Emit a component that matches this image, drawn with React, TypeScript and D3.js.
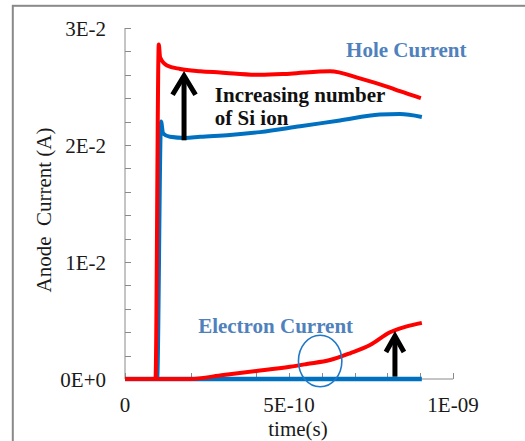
import React, { useEffect, useRef } from 'react';
import * as d3 from 'd3';

// time in units of 1E-10 s, current in units of 1E-2 A
const holeHighT = [0, 0.93, 1.03, 1.07, 1.28, 1.68, 2.29, 2.9, 4.12, 5.03, 6.25, 7.16, 8.08, 8.38, 9.02];
const holeHighI = [0, 0, 2.86, 2.75, 2.68, 2.65, 2.63, 2.62, 2.6, 2.61, 2.63, 2.57, 2.49, 2.46, 2.4];

const holeLowT = [0, 0.98, 1.1, 1.16, 1.37, 1.83, 2.29, 3.2, 4.12, 5.34, 6.55, 7.77, 8.38, 9.05];
const holeLowI = [0, 0, 2.2, 2.1, 2.07, 2.06, 2.07, 2.085, 2.11, 2.16, 2.21, 2.26, 2.265, 2.24];

const elecHighT = [0, 1.98, 3.0, 4.01, 5.03, 5.54, 6.25, 6.86, 7.47, 8.08, 8.59, 9.05];
const elecHighI = [0, 0, 0.034, 0.068, 0.105, 0.128, 0.162, 0.22, 0.29, 0.4, 0.45, 0.48];

const elecLowT = [0, 9.05];
const elecLowI = [0, 0];

const yTicks = [0, 0.01, 0.02, 0.03];
const yTickLabels = ['0E+0', '1E-2', '2E-2', '3E-2'];
const xTicks = [0, 5e-10, 1e-9];
const xTickLabels = ['0', '5E-10', '1E-09'];

export default function App() {
  const ref = useRef<SVGSVGElement>(null);

  useEffect(() => {
    const svg = d3.select(ref.current);
    svg.selectAll('*').remove();

    const x = d3.scaleLinear().domain([0, 1e-9]).range([125, 453]);
    const y = d3.scaleLinear().domain([0, 0.03]).range([379, 28]);
    const serif = '"Liberation Serif", "Times New Roman", serif';

    // outer frame (cut off by the picture at right and bottom)
    svg.append('rect')
      .attr('x', 12.8).attr('y', 5.8)
      .attr('width', 560).attr('height', 480)
      .attr('fill', 'none').attr('stroke', '#898989').attr('stroke-width', 2);

    // axes
    const axisColor = '#8a8a8a';
    svg.append('line')
      .attr('x1', x(0)).attr('x2', x(0)).attr('y1', y(0)).attr('y2', y(0.03))
      .attr('stroke', axisColor);
    svg.append('line')
      .attr('x1', x(0)).attr('x2', x(1e-9)).attr('y1', y(0)).attr('y2', y(0))
      .attr('stroke', axisColor);

    // minor ticks, pointing inward
    svg.selectAll('.yt').data(d3.range(0, 16).map(i => i * 0.002))
      .enter().append('line')
      .attr('x1', x(0)).attr('x2', x(0) + 6)
      .attr('y1', d => Math.round(y(d)) + 0.5).attr('y2', d => Math.round(y(d)) + 0.5)
      .attr('stroke', axisColor);
    svg.selectAll('.xt').data(d3.range(0, 11).map(i => i * 1e-10))
      .enter().append('line')
      .attr('x1', d => Math.round(x(d)) + 0.5).attr('x2', d => Math.round(x(d)) + 0.5)
      .attr('y1', y(0)).attr('y2', y(0) - 6)
      .attr('stroke', axisColor);

    // tick labels
    svg.selectAll('.yl').data(yTicks)
      .enter().append('text')
      .attr('x', 106).attr('y', d => y(d) + 7.5)
      .attr('text-anchor', 'end')
      .style('font-family', serif).style('font-size', '21px').attr('fill', '#1a1a1a')
      .text((d, i) => yTickLabels[i]);
    svg.selectAll('.xl').data(xTicks)
      .enter().append('text')
      .attr('x', d => x(d)).attr('y', 411.5)
      .attr('text-anchor', 'middle')
      .style('font-family', serif).style('font-size', '21px').attr('fill', '#1a1a1a')
      .text((d, i) => xTickLabels[i]);

    // axis titles
    svg.append('text')
      .attr('x', 298).attr('y', 436)
      .attr('text-anchor', 'middle')
      .style('font-family', serif).style('font-size', '21px').attr('fill', '#1a1a1a')
      .text('time(s)');
    svg.append('text')
      .attr('transform', 'translate(51,210) rotate(-90)')
      .attr('text-anchor', 'middle')
      .style('font-family', serif).style('font-size', '21px').style('white-space', 'pre')
      .attr('fill', '#1a1a1a')
      .text('Anode  Current (A)');

    // series
    const line = d3.line<[number, number]>()
      .x(d => x(d[0] * 1e-10))
      .y(d => y(d[1] * 1e-2))
      .curve(d3.curveMonotoneX);
    const pairs = (t: number[], v: number[]) => t.map((d, i) => [d, v[i]] as [number, number]);

    const series = [
      { t: elecLowT, v: elecLowI, color: '#0070C0', w: 4.5 },
      { t: holeLowT, v: holeLowI, color: '#0070C0', w: 4 },
      { t: elecHighT, v: elecHighI, color: '#FF0000', w: 4 },
      { t: holeHighT, v: holeHighI, color: '#FF0000', w: 4 },
    ];
    svg.selectAll('.series').data(series)
      .enter().append('path')
      .attr('d', d => line(pairs(d.t, d.v)))
      .attr('fill', 'none')
      .attr('stroke', d => d.color)
      .attr('stroke-width', d => d.w)
      .attr('stroke-linejoin', 'round');

    // annotations
    const arrows = [
      { t: 1.8, from: 2.04, to: 2.6, hw: 11.5, hh: 20 },
      { t: 8.23, from: 0.02, to: 0.376, hw: 9, hh: 17 },
    ];
    arrows.forEach(a => {
      const ax = x(a.t * 1e-10);
      const y0 = y(a.from * 1e-2);
      const y1 = y(a.to * 1e-2);
      svg.append('line')
        .attr('x1', ax).attr('x2', ax).attr('y1', y0).attr('y2', y1 + 2)
        .attr('stroke', '#000').attr('stroke-width', 5);
      svg.append('path')
        .attr('d', `M${ax - a.hw},${y1 + a.hh} L${ax},${y1 + 1} L${ax + a.hw},${y1 + a.hh}`)
        .attr('fill', 'none').attr('stroke', '#000').attr('stroke-width', 5)
        .attr('stroke-linejoin', 'miter');
    });

    svg.append('ellipse')
      .attr('cx', x(5.95e-10)).attr('cy', y(0.154e-2))
      .attr('rx', 21.7).attr('ry', 25.8)
      .attr('fill', 'none').attr('stroke', '#1F78C8').attr('stroke-width', 1.6);

    const labelBlue = '#4F81BD';
    svg.append('text')
      .attr('x', x(6.74e-10)).attr('y', y(2.748e-2))
      .style('font-family', serif).style('font-size', '21px').style('font-weight', 'bold')
      .attr('fill', labelBlue)
      .text('Hole Current');
    svg.append('text')
      .attr('x', x(2.23e-10)).attr('y', y(0.393e-2))
      .style('font-family', serif).style('font-size', '21px').style('font-weight', 'bold')
      .attr('fill', labelBlue)
      .text('Electron Current');

    const note = svg.append('text')
      .style('font-family', serif).style('font-size', '21px').style('font-weight', 'bold')
      .attr('fill', '#111');
    note.append('tspan')
      .attr('x', x(2.74e-10)).attr('y', y(2.37e-2))
      .text('Increasing number');
    note.append('tspan')
      .attr('x', x(2.74e-10)).attr('y', y(2.17e-2))
      .text('of Si ion');
  }, []);

  return (
    <div style={{ position: 'absolute', left: 0, top: 0 }}>
      <svg ref={ref} width={525} height={441} style={{ display: 'block', background: '#fff' }} />
    </div>
  );
}
